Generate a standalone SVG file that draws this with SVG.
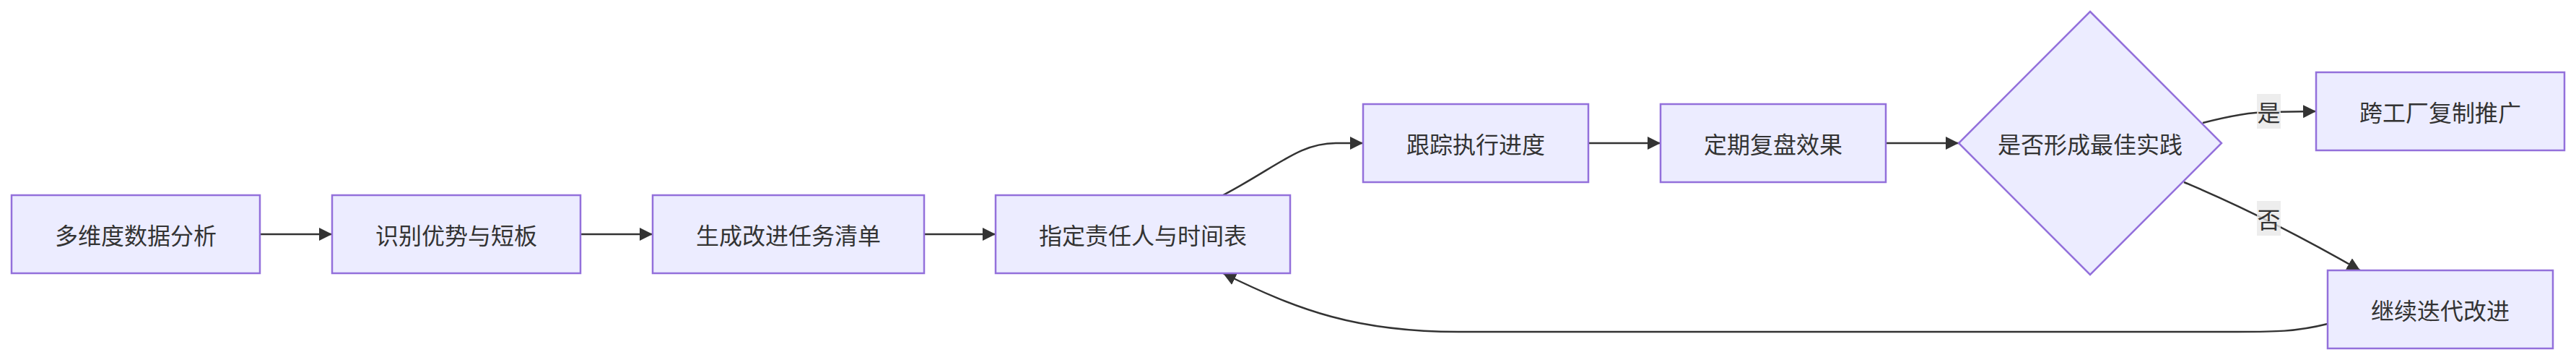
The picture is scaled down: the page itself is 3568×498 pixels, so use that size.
<svg xmlns="http://www.w3.org/2000/svg" width="3568" height="498" viewBox="0 0 3568 498">
<style>
.node rect,.node polygon{fill:#ECECFF;stroke:#9370DB;stroke-width:2.5}
.node text,.lbl text{font-family:"Noto Sans CJK SC","Noto Sans",sans-serif;font-size:32px;fill:#333333;text-anchor:middle;dominant-baseline:central}
.edge{fill:none;stroke:#333333;stroke-width:2.5;marker-end:url(#arr)}
.lbl rect{fill:#e8e8e8;fill-opacity:0.8}
</style>
<defs>
<marker id="arr" markerUnits="userSpaceOnUse" markerWidth="18" markerHeight="18" refX="16" refY="8" orient="auto" viewBox="0 0 16 16">
<path d="M0,0 L16,8 L0,16 z" fill="#333333"/>
</marker>
</defs>
<rect width="3568" height="498" fill="#ffffff"/>
<g id="connectors">
<path class="edge" d="M360,324 L460,324"/>
<path class="edge" d="M804,324 L904,324"/>
<path class="edge" d="M1280,324 L1379,324"/>
<path class="edge" d="M1694,270 C1770,230 1800,198 1850,198 L1888,198"/>
<path class="edge" d="M2200,198 L2300,198"/>
<path class="edge" d="M2612,198 L2713,198"/>
<path class="edge" d="M3051,170 C3090,160 3120,155 3142,155 L3208,154"/>
<path class="edge" d="M3025,252 Q3140,300 3269,374"/>
<path class="edge" d="M3224,448 C3180,459 3150,459 3100,459 L2020,459 C1880,459 1800,430 1694,378"/>
<g class="lbl" id="label-yes"><rect x="3126" y="130" width="33" height="48"/><text x="3142.5" y="154">是</text></g>
<g class="lbl" id="label-no"><rect x="3126" y="278" width="33" height="48"/><text x="3142.5" y="302">否</text></g>
</g>
<g class="node" id="A"><rect x="16" y="270" width="344" height="108"/><text x="188" y="324">多维度数据分析</text></g>
<g class="node" id="B"><rect x="460" y="270" width="344" height="108"/><text x="632" y="324">识别优势与短板</text></g>
<g class="node" id="C"><rect x="904" y="270" width="376" height="108"/><text x="1092" y="324">生成改进任务清单</text></g>
<g class="node" id="D"><rect x="1379" y="270" width="408" height="108"/><text x="1583" y="324">指定责任人与时间表</text></g>
<g class="node" id="E"><rect x="1888" y="144" width="312" height="108"/><text x="2044" y="198">跟踪执行进度</text></g>
<g class="node" id="F"><rect x="2300" y="144" width="312" height="108"/><text x="2456" y="198">定期复盘效果</text></g>
<g class="node" id="G"><polygon points="2895,16 3077,198 2895,380 2713,198"/><text x="2895" y="198">是否形成最佳实践</text></g>
<g class="node" id="H"><rect x="3208" y="100" width="344" height="108"/><text x="3380" y="154">跨工厂复制推广</text></g>
<g class="node" id="I"><rect x="3224" y="374" width="312" height="108"/><text x="3380" y="428">继续迭代改进</text></g>
</svg>
